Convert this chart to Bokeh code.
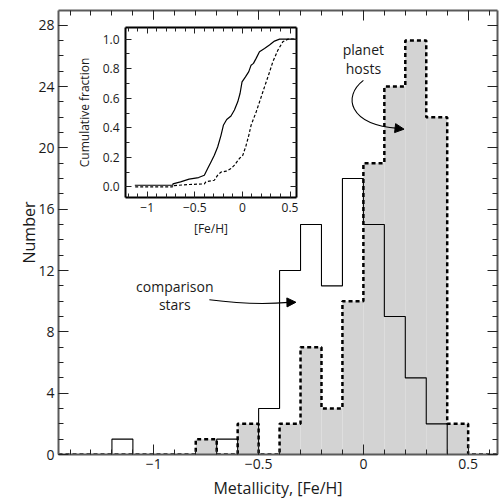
import numpy as np
from bokeh.plotting import figure
from bokeh.models import (Range1d, LinearAxis, FixedTicker, Label, Arrow, NormalHead,
                          CustomLabelingPolicy)
from bokeh.layouts import column
from bokeh.embed import file_html
from bokeh.resources import INLINE

FONT = "Open Sans"
TXT = "#1a1a1a"

# ---------------- data ----------------
BIN_W = 0.1
comp_bins = [-1.2, -1.1, -1.0, -0.9, -0.8, -0.7, -0.6, -0.5, -0.4, -0.3, -0.2, -0.1, 0.0, 0.1, 0.2, 0.3]
comp_counts = [1, 0, 0, 0, 0, 1, 0, 3, 12, 15, 11, 18, 15, 9, 5, 2]
host_bins = [-0.8, -0.7, -0.6, -0.5, -0.4, -0.3, -0.2, -0.1, 0.0, 0.1, 0.2, 0.3, 0.4]
host_counts = [1, 0, 2, 0, 2, 7, 3, 10, 19, 24, 27, 22, 2]

cum_x_comp = [-1.13, -0.73, -0.73, -0.65, -0.56, -0.46, -0.40, -0.365, -0.33, -0.295, -0.26,
              -0.225, -0.20, -0.165, -0.12, -0.084, -0.049, -0.025, -0.004, 0.032, 0.067,
              0.091, 0.116, 0.144, 0.179, 0.232, 0.284, 0.337, 0.39, 0.56]
cum_f_comp = [0.011, 0.011, 0.02, 0.034, 0.052, 0.063, 0.079, 0.124, 0.169, 0.214, 0.27,
              0.349, 0.417, 0.456, 0.48, 0.52, 0.576, 0.632, 0.711, 0.745, 0.78,
              0.824, 0.836, 0.87, 0.915, 0.937, 0.96, 0.987, 1.0, 1.0]
cum_x_host = [-1.126, -0.734, -0.734, -0.558, -0.40, -0.384, -0.295, -0.26, -0.225, -0.172,
              -0.12, -0.084, -0.032, 0.004, 0.039, 0.067, 0.091, 0.144, 0.186, 0.232,
              0.274, 0.319, 0.372, 0.424, 0.477, 0.557]
cum_f_host = [0.0, 0.0, 0.008, 0.016, 0.02, 0.034, 0.045, 0.079, 0.10, 0.106,
              0.124, 0.147, 0.192, 0.214, 0.282, 0.349, 0.417, 0.507, 0.587, 0.677,
              0.756, 0.846, 0.925, 0.982, 1.0, 1.0]

main_x_ticks = [-1.0, -0.5, 0.0, 0.5]
main_x_labels = ["\u22121", "\u22120.5", "0", "0.5"]
main_y_ticks = [0, 4, 8, 12, 16, 20, 24, 28]
main_y_labels = ["0", "4", "8", "12", "16", "20", "24", "28"]
inset_x_ticks = [-1.0, -0.5, 0.0, 0.5]
inset_x_labels = ["\u22121", "\u22120.5", "0", "0.5"]
inset_y_ticks = [0.0, 0.2, 0.4, 0.6, 0.8, 1.0]
inset_y_labels = ["0.0", "0.2", "0.4", "0.6", "0.8", "1.0"]

XMIN, XMAX = -1.455, 0.640
YMIN, YMAX = 0.0, 28.96

NO_LABELS = CustomLabelingPolicy(code="""
const all = [];
for (const i of indices) all.push(i);
for (const i of all) indices.unset(i);
return indices;
""")


def outline(bins, counts, x0, x1):
    edges = list(bins) + [round(bins[-1] + BIN_W, 3)]
    xs = [x0] + edges + [x1]
    ys = [0] + list(counts) + [0, 0]
    return xs, ys


def style_axis(ax, ticks, labels, minor, show_labels, size, mt_in, mn_in, line_color, line_w):
    ax.ticker = FixedTicker(ticks=ticks, minor_ticks=minor)
    ax.major_tick_in = mt_in
    ax.major_tick_out = 0
    ax.minor_tick_in = mn_in
    ax.minor_tick_out = 0
    ax.axis_line_color = line_color
    ax.axis_line_width = line_w
    ax.major_tick_line_color = "#222222"
    ax.minor_tick_line_color = "#222222"
    ax.major_tick_line_width = 1
    ax.minor_tick_line_width = 1
    ax.major_label_text_font = FONT
    ax.major_label_text_color = TXT
    if show_labels:
        ax.major_label_overrides = {float(t): l for t, l in zip(ticks, labels)}
        ax.major_label_text_font_size = size
    else:
        ax.major_label_overrides = {float(t): "" for t in ticks}
        ax.major_label_text_font_size = "0px"
        ax.major_label_policy = NO_LABELS
        ax.major_label_standoff = 0


# ---------------- main figure ----------------
p = figure(width=501, height=503, x_range=Range1d(XMIN, XMAX), y_range=Range1d(YMIN, YMAX),
           output_backend="svg", toolbar_location=None,
           min_border_left=58, min_border_right=1, min_border_top=10, min_border_bottom=49)
p.grid.visible = False
p.outline_line_color = None
p.background_fill_color = "white"
p.border_fill_color = "white"

xminor = [round(-1.4 + 0.1 * i, 2) for i in range(21)]
yminor = list(range(0, 29))

p.add_layout(LinearAxis(), "above")
p.add_layout(LinearAxis(), "right")
for ax in p.xaxis:
    style_axis(ax, main_x_ticks, main_x_labels, xminor, ax in p.below, "14px", 10, 5, "#5a5a5a", 2)
for ax in p.yaxis:
    style_axis(ax, main_y_ticks, main_y_labels, yminor, ax in p.left, "14px", 10, 5, "#5a5a5a", 2)
p.below[0].major_label_standoff = 4
p.left[0].major_label_standoff = 4

p.below[0].axis_label = "Metallicity, [Fe/H]"
p.left[0].axis_label = "Number"
for ax in (p.below[0], p.left[0]):
    ax.axis_label_text_font = FONT
    ax.axis_label_text_font_size = "16px"
    ax.axis_label_text_font_style = "normal"
    ax.axis_label_text_color = TXT
p.below[0].axis_label_standoff = 5
p.left[0].axis_label_standoff = -5

# planet hosts fill
p.quad(left=host_bins, right=[b + BIN_W for b in host_bins], top=host_counts, bottom=0,
       fill_color="#d3d3d3", line_color=None)
# comparison outline
cx, cy = outline(comp_bins, comp_counts, XMIN, XMAX)
p.step(cx, cy, mode="after", line_color="black", line_width=1.1)
# planet hosts dashed outline
hx, hy = outline(host_bins, host_counts, XMIN, XMAX)
p.step(hx, hy, mode="after", line_color="black", line_width=2.5, line_dash="4 3")

# annotations
for txt, x, y in [("planet", 0.0, 26.42), ("hosts", 0.0, 25.18),
                  ("comparison", -0.90, 10.98), ("stars", -0.90, 9.78)]:
    p.add_layout(Label(x=x, y=y, text=txt, text_font=FONT, text_font_size="14px",
                       text_color=TXT, text_align="center", text_baseline="middle"))

p.bezier(x0=[0.0], y0=[24.40], x1=[0.166], y1=[21.27],
         cx0=[-0.0995], cy0=[23.35], cx1=[-0.071], cy1=[21.53],
         line_color="black", line_width=1.1)
p.add_layout(Arrow(end=NormalHead(size=9, fill_color="black", line_color="black"),
                   x_start=0.15, y_start=21.29, x_end=0.194, y_end=21.22,
                   line_color="black", line_width=1.1))
p.quadratic(x0=[-0.735], y0=[10.09], x1=[-0.355], y1=[9.92], cx=[-0.531], cy=[9.72],
            line_color="black", line_width=1.1)
p.add_layout(Arrow(end=NormalHead(size=9, fill_color="black", line_color="black"),
                   x_start=-0.36, y_start=9.92, x_end=-0.322, y_end=9.93,
                   line_color="black", line_width=1.1))

# ---------------- inset ----------------
q = figure(width=233, height=220, x_range=Range1d(-1.228, 0.568), y_range=Range1d(-0.072, 1.079),
           output_backend="svg", toolbar_location=None,
           min_border_left=58, min_border_right=4, min_border_top=8, min_border_bottom=42)
q.grid.visible = False
q.outline_line_color = None
q.background_fill_color = "white"
q.border_fill_color = "white"
q.add_layout(LinearAxis(), "above")
q.add_layout(LinearAxis(), "right")
qxminor = [round(-1.2 + 0.1 * i, 2) for i in range(18)]
qyminor = [round(0.1 * i, 2) for i in range(11)]
for ax in q.xaxis:
    style_axis(ax, inset_x_ticks, inset_x_labels, qxminor, ax in q.below, "12px", 6, 4, "black", 2)
for ax in q.yaxis:
    style_axis(ax, inset_y_ticks, inset_y_labels, qyminor, ax in q.left, "12px", 6, 4, "black", 2)
q.below[0].major_label_standoff = 5
q.left[0].major_label_standoff = 6
q.below[0].axis_label = "[Fe/H]"
q.left[0].axis_label = "Cumulative fraction"
for ax in (q.below[0], q.left[0]):
    ax.axis_label_text_font = FONT
    ax.axis_label_text_font_size = "12px"
    ax.axis_label_text_font_style = "normal"
    ax.axis_label_text_color = TXT
q.below[0].axis_label_standoff = 5
q.left[0].axis_label_standoff = 7

q.line(cum_x_comp, cum_f_comp, line_color="black", line_width=1.2)
q.line(cum_x_host, cum_f_host, line_color="black", line_width=1.2, line_dash="3 2")

q.styles = {"position": "absolute", "left": "67px", "top": "19px", "z-index": "10"}

layout = column(p, q)
open("out.html", "w").write(file_html(layout, INLINE))
